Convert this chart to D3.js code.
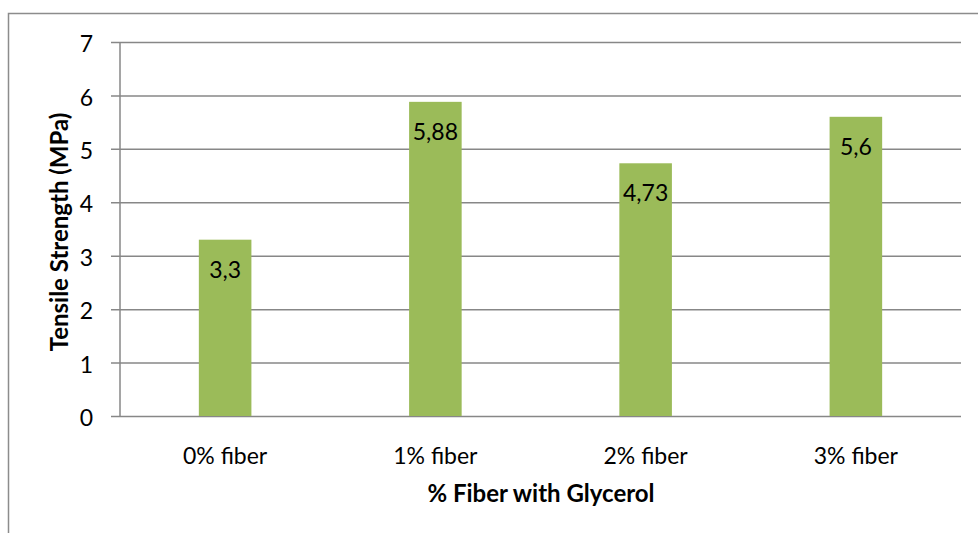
<!DOCTYPE html>
<html>
<head>
<meta charset="utf-8">
<script src="https://cdn.jsdelivr.net/npm/d3@7"></script>
<style>
  html, body { margin: 0; padding: 0; background: #fff; }
  svg { display: block; font-family: Lato, Carlito, Calibri, "Open Sans", sans-serif; }
</style>
</head>
<body>
<svg id="chart" width="978" height="533"></svg>
<script>
// Tensile strength by fiber content
const categories = ["0% fiber", "1% fiber", "2% fiber", "3% fiber"];
const values = [3.3, 5.88, 4.73, 5.6];
const valueLabels = ["3,3", "5,88", "4,73", "5,6"];
const yTicks = [0, 1, 2, 3, 4, 5, 6, 7];
const xTitle = "% Fiber with Glycerol";
const yTitle = "Tensile Strength (MPa)";

const svg = d3.select("#chart");
const plot = { left: 120, right: 961, top: 42, bottom: 416 };
const fontSize = 23;

// chart frame
svg.append("rect")
  .attr("x", 8.5).attr("y", 13.5)
  .attr("width", 1000).attr("height", 600)
  .attr("fill", "none").attr("stroke", "#8c8c8c").attr("stroke-width", 1.5);

const x = d3.scaleBand().domain(categories).range([plot.left, plot.right]).paddingInner(0.75).paddingOuter(0.375);
const y = d3.scaleLinear().domain([0, 7]).range([plot.bottom, plot.top]);

// gridlines and tick marks
const yAxis = d3.axisLeft(y).tickValues(yTicks).tickFormat(d3.format("d"))
  .tickSize(-(plot.right - plot.left)).tickSizeOuter(0).tickPadding(0);
const gy = svg.append("g").attr("transform", `translate(${plot.left},0)`).call(yAxis);
gy.select(".domain").remove();
gy.selectAll(".tick line").attr("stroke", "#878787").attr("stroke-width", 1.5).attr("x1", -9);
gy.selectAll(".tick text")
  .attr("x", -27).attr("dy", "0.42em")
  .attr("text-anchor", "end")
  .attr("font-size", fontSize).attr("fill", "#000")
  .attr("font-family", "Lato, Carlito, Calibri, sans-serif");

// vertical axis line
svg.append("line")
  .attr("x1", plot.left).attr("x2", plot.left)
  .attr("y1", y(7)).attr("y2", y(0))
  .attr("stroke", "#878787").attr("stroke-width", 1.5);

// bars
svg.append("g").selectAll("rect").data(values).join("rect")
  .attr("x", (d, i) => x(categories[i]))
  .attr("y", d => y(d))
  .attr("width", x.bandwidth())
  .attr("height", d => y(0) - y(d))
  .attr("fill", "#9bbb59");

// value labels inside the bar ends
svg.append("g").selectAll("text").data(values).join("text")
  .attr("x", (d, i) => x(categories[i]) + x.bandwidth() / 2)
  .attr("y", d => y(d) + 38)
  .attr("text-anchor", "middle")
  .attr("font-size", fontSize).attr("fill", "#000")
  .text((d, i) => valueLabels[i]);

// category labels
svg.append("g").selectAll("text").data(categories).join("text")
  .attr("x", d => x(d) + x.bandwidth() / 2)
  .attr("y", 464)
  .attr("text-anchor", "middle")
  .attr("font-size", fontSize).attr("fill", "#000")
  .text(d => d);

// axis titles
svg.append("text")
  .attr("x", 541).attr("y", 502)
  .attr("text-anchor", "middle")
  .attr("font-size", 24).attr("font-weight", "bold").attr("fill", "#000")
  .text(xTitle);

svg.append("text")
  .attr("transform", "translate(68,232) rotate(-90)")
  .attr("text-anchor", "middle")
  .attr("font-size", 24).attr("font-weight", "bold").attr("fill", "#000")
  .text(yTitle);
</script>
</body>
</html>
